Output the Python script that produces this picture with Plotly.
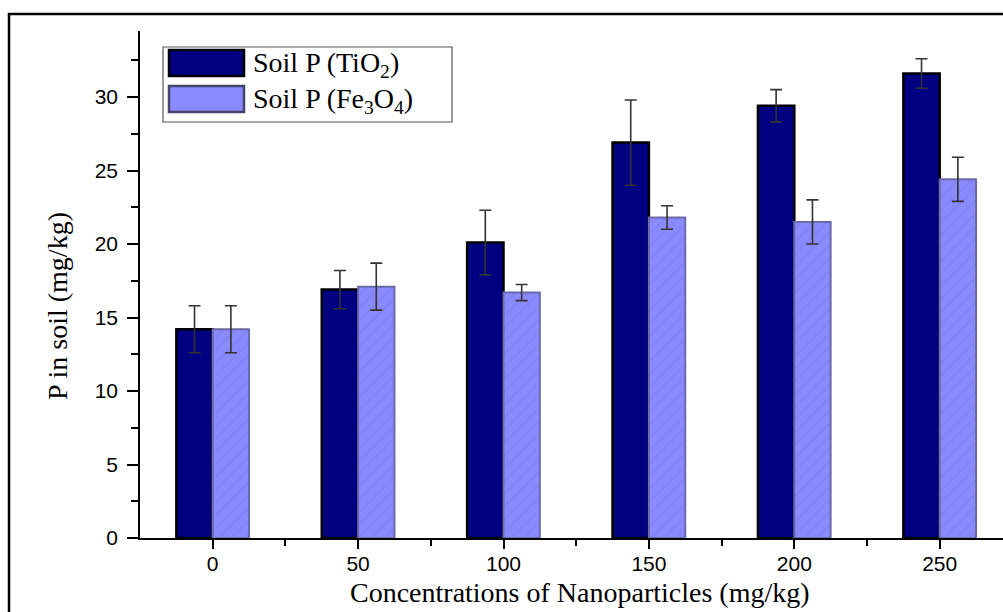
import plotly.graph_objects as go

# Nanoparticle dose (mg/kg) and soil phosphorus (mg/kg) with standard errors
concentrations = [0, 50, 100, 150, 200, 250]
tio2_p = [14.2, 16.9, 20.1, 26.9, 29.4, 31.6]
tio2_err = [1.6, 1.3, 2.2, 2.9, 1.1, 1.0]
fe3o4_p = [14.2, 17.1, 16.7, 21.8, 21.5, 24.4]
fe3o4_err = [1.6, 1.6, 0.55, 0.8, 1.5, 1.5]

series_names = ["Soil P (TiO<sub>2</sub>)", "Soil P (Fe<sub>3</sub>O<sub>4</sub>)"]
y_ticks = [0, 5, 10, 15, 20, 25, 30]

W, H = 1003, 612
L, R, T, B = 140, 0, 31, 74
PW, PH = W - L - R, H - T - B


def px(x):
    return (x - L) / PW


def py(y):
    return (H - B - y) / PH


DARK = "#000080"
LIGHT = "#8a8aff"

fig = go.Figure()
fig.add_trace(go.Bar(
    x=concentrations, y=tio2_p, name=series_names[0],
    marker=dict(color=DARK, line=dict(color="#000000", width=2.5)),
    error_y=dict(type="data", array=tio2_err, color="#333333", thickness=1.6, width=6),
    showlegend=False,
))
fig.add_trace(go.Bar(
    x=concentrations, y=fe3o4_p, name=series_names[1],
    marker=dict(color=LIGHT, line=dict(color="#6a6aa8", width=2),
                pattern=dict(shape="/", fgcolor="#7474e6", bgcolor=LIGHT, size=9, solidity=0.12)),
    error_y=dict(type="data", array=fe3o4_err, color="#333333", thickness=1.6, width=6),
    showlegend=False,
))

shapes = [
    # outer frame
    dict(type="rect", xref="paper", yref="paper",
         x0=px(9), x1=px(W + 10), y0=py(H + 10), y1=py(14),
         line=dict(color="#000000", width=2.5), fillcolor="rgba(0,0,0,0)", layer="below"),
    # legend box
    dict(type="rect", xref="paper", yref="paper",
         x0=px(163), x1=px(452), y0=py(122), y1=py(47),
         line=dict(color="#555555", width=1.2), fillcolor="#ffffff"),
    dict(type="rect", xref="paper", yref="paper",
         x0=px(169), x1=px(244), y0=py(76), y1=py(50),
         line=dict(color="#000000", width=2.5), fillcolor=DARK),
    dict(type="rect", xref="paper", yref="paper",
         x0=px(169), x1=px(244), y0=py(112), y1=py(86),
         line=dict(color="#44446a", width=2.5), fillcolor=LIGHT),
]

annotations = [
    dict(text=series_names[0], xref="paper", yref="paper", x=px(251), y=py(64),
         xanchor="left", yanchor="middle", showarrow=False,
         font=dict(family="Liberation Serif", size=28, color="#000000")),
    dict(text=series_names[1], xref="paper", yref="paper", x=px(251), y=py(100),
         xanchor="left", yanchor="middle", showarrow=False,
         font=dict(family="Liberation Serif", size=28, color="#000000")),
    # y-axis title
    dict(text="P in soil (mg/kg)", xref="paper", yref="paper", x=px(57), y=py(306),
         xanchor="center", yanchor="middle", textangle=-90, showarrow=False,
         font=dict(family="Liberation Serif", size=28, color="#000000")),
    # x-axis title
    dict(text="Concentrations of Nanoparticles (mg/kg)", xref="paper", yref="paper",
         x=px(580), y=py(612), xanchor="center", yanchor="bottom", yshift=2, showarrow=False,
         font=dict(family="Liberation Serif", size=28, color="#000000")),
]

fig.update_layout(
    width=W, height=H,
    margin=dict(l=L, r=R, t=T, b=B, pad=0),
    paper_bgcolor="#ffffff", plot_bgcolor="#ffffff",
    barmode="group", bargap=0.5, bargroupgap=0,
    shapes=shapes, annotations=annotations,
    font=dict(family="Liberation Sans", color="#000000"),
)

fig.update_xaxes(
    automargin=False,
    range=[-25, -25 + PW / 2.908],
    tickvals=concentrations, ticktext=[str(c) for c in concentrations],
    ticks="outside", ticklen=9, tickwidth=1.5, tickcolor="#000000",
    minor=dict(tickvals=[25, 75, 125, 175, 225, 275], ticks="outside", ticklen=6, tickwidth=1.5, tickcolor="#000000"),
    showline=True, linecolor="#000000", linewidth=1.5,
    showgrid=False, zeroline=False,
    ticklabelstandoff=-3,
    tickfont=dict(family="Liberation Sans", size=21, color="#000000"),
)
fig.update_yaxes(
    automargin=False,
    range=[0, PH / 14.7],
    tickvals=y_ticks,
    ticks="outside", ticklen=11, tickwidth=1.5, tickcolor="#000000",
    minor=dict(dtick=2.5, ticks="outside", ticklen=7, tickwidth=1.5, tickcolor="#000000"),
    showline=True, linecolor="#000000", linewidth=1.5,
    showgrid=False, zeroline=False,
    ticklabelstandoff=5,
    tickfont=dict(family="Liberation Sans", size=21, color="#000000"),
)

fig.write_html("out.html")
